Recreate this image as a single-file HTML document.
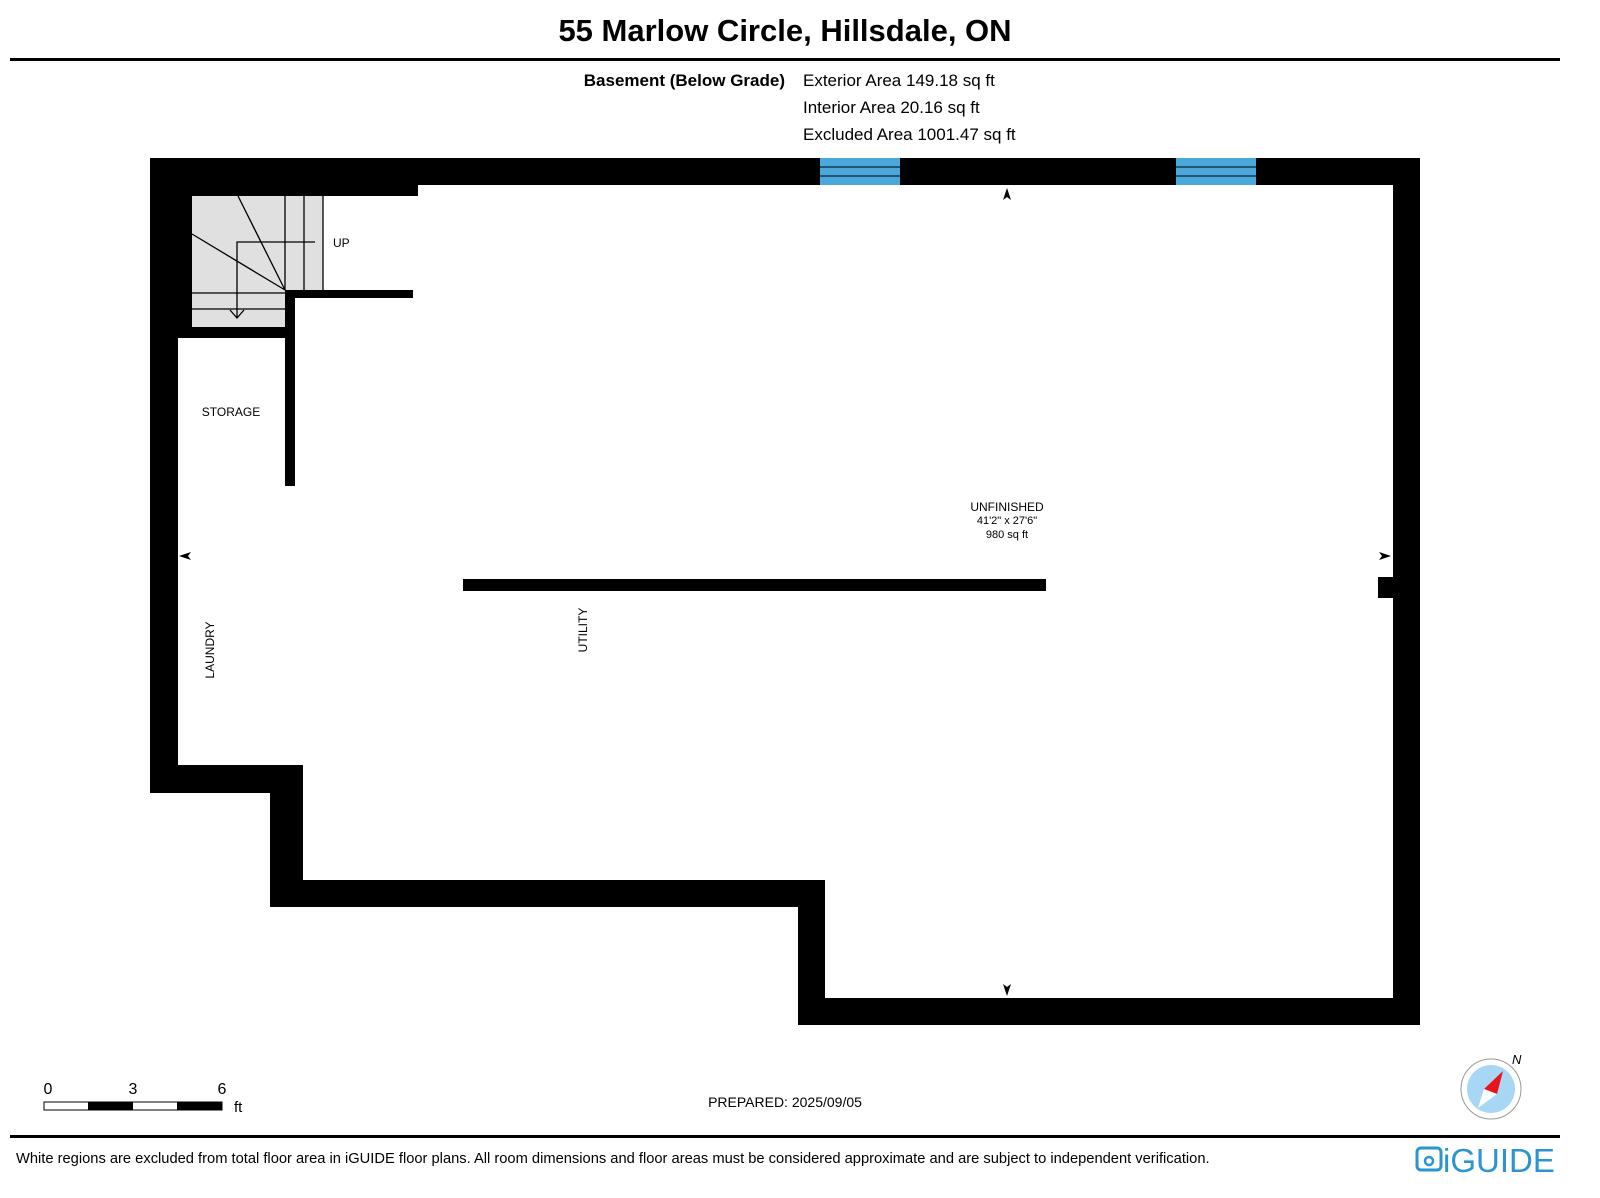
<!DOCTYPE html>
<html><head><meta charset="utf-8"><style>
html,body{margin:0;padding:0;background:#fff}
svg{display:block}
text{font-family:"Liberation Sans",Arial,sans-serif}
</style></head><body>
<svg width="1600" height="1198" viewBox="0 0 1600 1198" xmlns="http://www.w3.org/2000/svg">
<rect width="1600" height="1198" fill="#fff"/>
<text x="785" y="41" font-size="31" font-weight="bold" text-anchor="middle">55 Marlow Circle, Hillsdale, ON</text>
<rect x="10" y="58" width="1550" height="3" fill="#000"/>
<text x="785" y="86" font-size="17" font-weight="bold" text-anchor="end">Basement (Below Grade)</text>
<text x="803" y="86" font-size="17">Exterior Area 149.18 sq ft</text>
<text x="803" y="113" font-size="17">Interior Area 20.16 sq ft</text>
<text x="803" y="140" font-size="17">Excluded Area 1001.47 sq ft</text>

<g fill="#000">
<rect x="150" y="158" width="1270" height="27"/>
<rect x="150" y="158" width="268" height="38"/>
<rect x="1393" y="158" width="27" height="867"/>
<rect x="798" y="998" width="622" height="27"/>
<rect x="798" y="880" width="27" height="145"/>
<rect x="270" y="880" width="555" height="27"/>
<rect x="270" y="765" width="33" height="142"/>
<rect x="150" y="765" width="153" height="28"/>
<rect x="150" y="158" width="28" height="635"/>
<rect x="150" y="158" width="42" height="180"/>
<rect x="150" y="327" width="145" height="11"/>
<rect x="285" y="290" width="10" height="196"/>
<rect x="285" y="290" width="128" height="8"/>
<rect x="463" y="579" width="583" height="12"/>
<rect x="1378" y="577" width="20" height="21"/>
</g>
<g>
<rect x="820" y="158" width="80" height="27" fill="#4aa8dc"/>
<rect x="1176" y="158" width="80" height="27" fill="#4aa8dc"/>
<g stroke="#000" stroke-width="1">
<line x1="820" y1="167" x2="900" y2="167"/><line x1="820" y1="176" x2="900" y2="176"/>
<line x1="1176" y1="167" x2="1256" y2="167"/><line x1="1176" y1="176" x2="1256" y2="176"/>
</g></g>
<rect x="192" y="196" width="93" height="131" fill="#e0e0e0"/>
<rect x="285" y="196" width="38" height="94" fill="#e0e0e0"/>
<g stroke="#000" stroke-width="1.3" fill="none">
<line x1="285" y1="196" x2="285" y2="290"/>
<line x1="304" y1="196" x2="304" y2="290"/>
<line x1="323" y1="196" x2="323" y2="290"/>
<line x1="192" y1="293" x2="285" y2="293"/>
<line x1="192" y1="309" x2="285" y2="309"/>
<line x1="238" y1="196" x2="285" y2="290"/>
<line x1="192" y1="234" x2="285" y2="290"/>
<polyline points="315,242 237,242 237,318"/>
<polyline points="230,310 237,318 244,310"/>
</g>
<text x="333" y="247" font-size="12">UP</text>
<text x="231" y="416" font-size="12" text-anchor="middle">STORAGE</text>
<text x="1007" y="511" font-size="12" text-anchor="middle">UNFINISHED</text>
<text x="1007" y="524" font-size="11" text-anchor="middle">41'2" x 27'6"</text>
<text x="1007" y="538" font-size="11" text-anchor="middle">980 sq ft</text>
<text transform="translate(214,650) rotate(-90)" font-size="12" text-anchor="middle">LAUNDRY</text>
<text transform="translate(587,630) rotate(-90)" font-size="12" text-anchor="middle">UTILITY</text>
<g fill="#000">
<polygon points="1007,188 1003,200 1007,197 1011,200"/>
<polygon points="1007,996 1003,984 1007,987 1011,984"/>
<polygon points="179,556 191,552 188,556 191,560"/>
<polygon points="1391,556 1379,552 1382,556 1379,560"/>
</g>
<text x="48" y="1094" font-size="16" text-anchor="middle">0</text>
<text x="133" y="1094" font-size="16" text-anchor="middle">3</text>
<text x="222" y="1094" font-size="16" text-anchor="middle">6</text>
<rect x="44" y="1102" width="178" height="8" fill="#fff" stroke="#000" stroke-width="1"/>
<rect x="88" y="1102" width="45" height="8" fill="#000"/>
<rect x="177" y="1102" width="45" height="8" fill="#000"/>
<text x="234" y="1112" font-size="15">ft</text>
<text x="785" y="1107" font-size="14" text-anchor="middle">PREPARED: 2025/09/05</text>
<circle cx="1491" cy="1089" r="30" fill="#fff" stroke="#999" stroke-width="1"/>
<circle cx="1491" cy="1089" r="24" fill="#a8d6f5"/>
<polygon points="1503,1071 1484,1089 1497,1094" fill="#e8141c"/>
<polygon points="1484,1089 1497,1094 1478,1108" fill="#fff"/>
<text x="1512" y="1064" font-size="13" font-style="italic">N</text>
<rect x="10" y="1135" width="1550" height="3" fill="#000"/>
<text x="16" y="1163" font-size="14.7">White regions are excluded from total floor area in iGUIDE floor plans. All room dimensions and floor areas must be considered approximate and are subject to independent verification.</text>
<rect x="1417" y="1148" width="24" height="22" rx="4" fill="none" stroke="#2a95cf" stroke-width="3"/>
<circle cx="1429" cy="1161" r="4" fill="none" stroke="#2a95cf" stroke-width="2.5"/>
<text x="1443" y="1172" font-size="33" fill="#2a95cf">iGUIDE</text>
</svg>
</body></html>
